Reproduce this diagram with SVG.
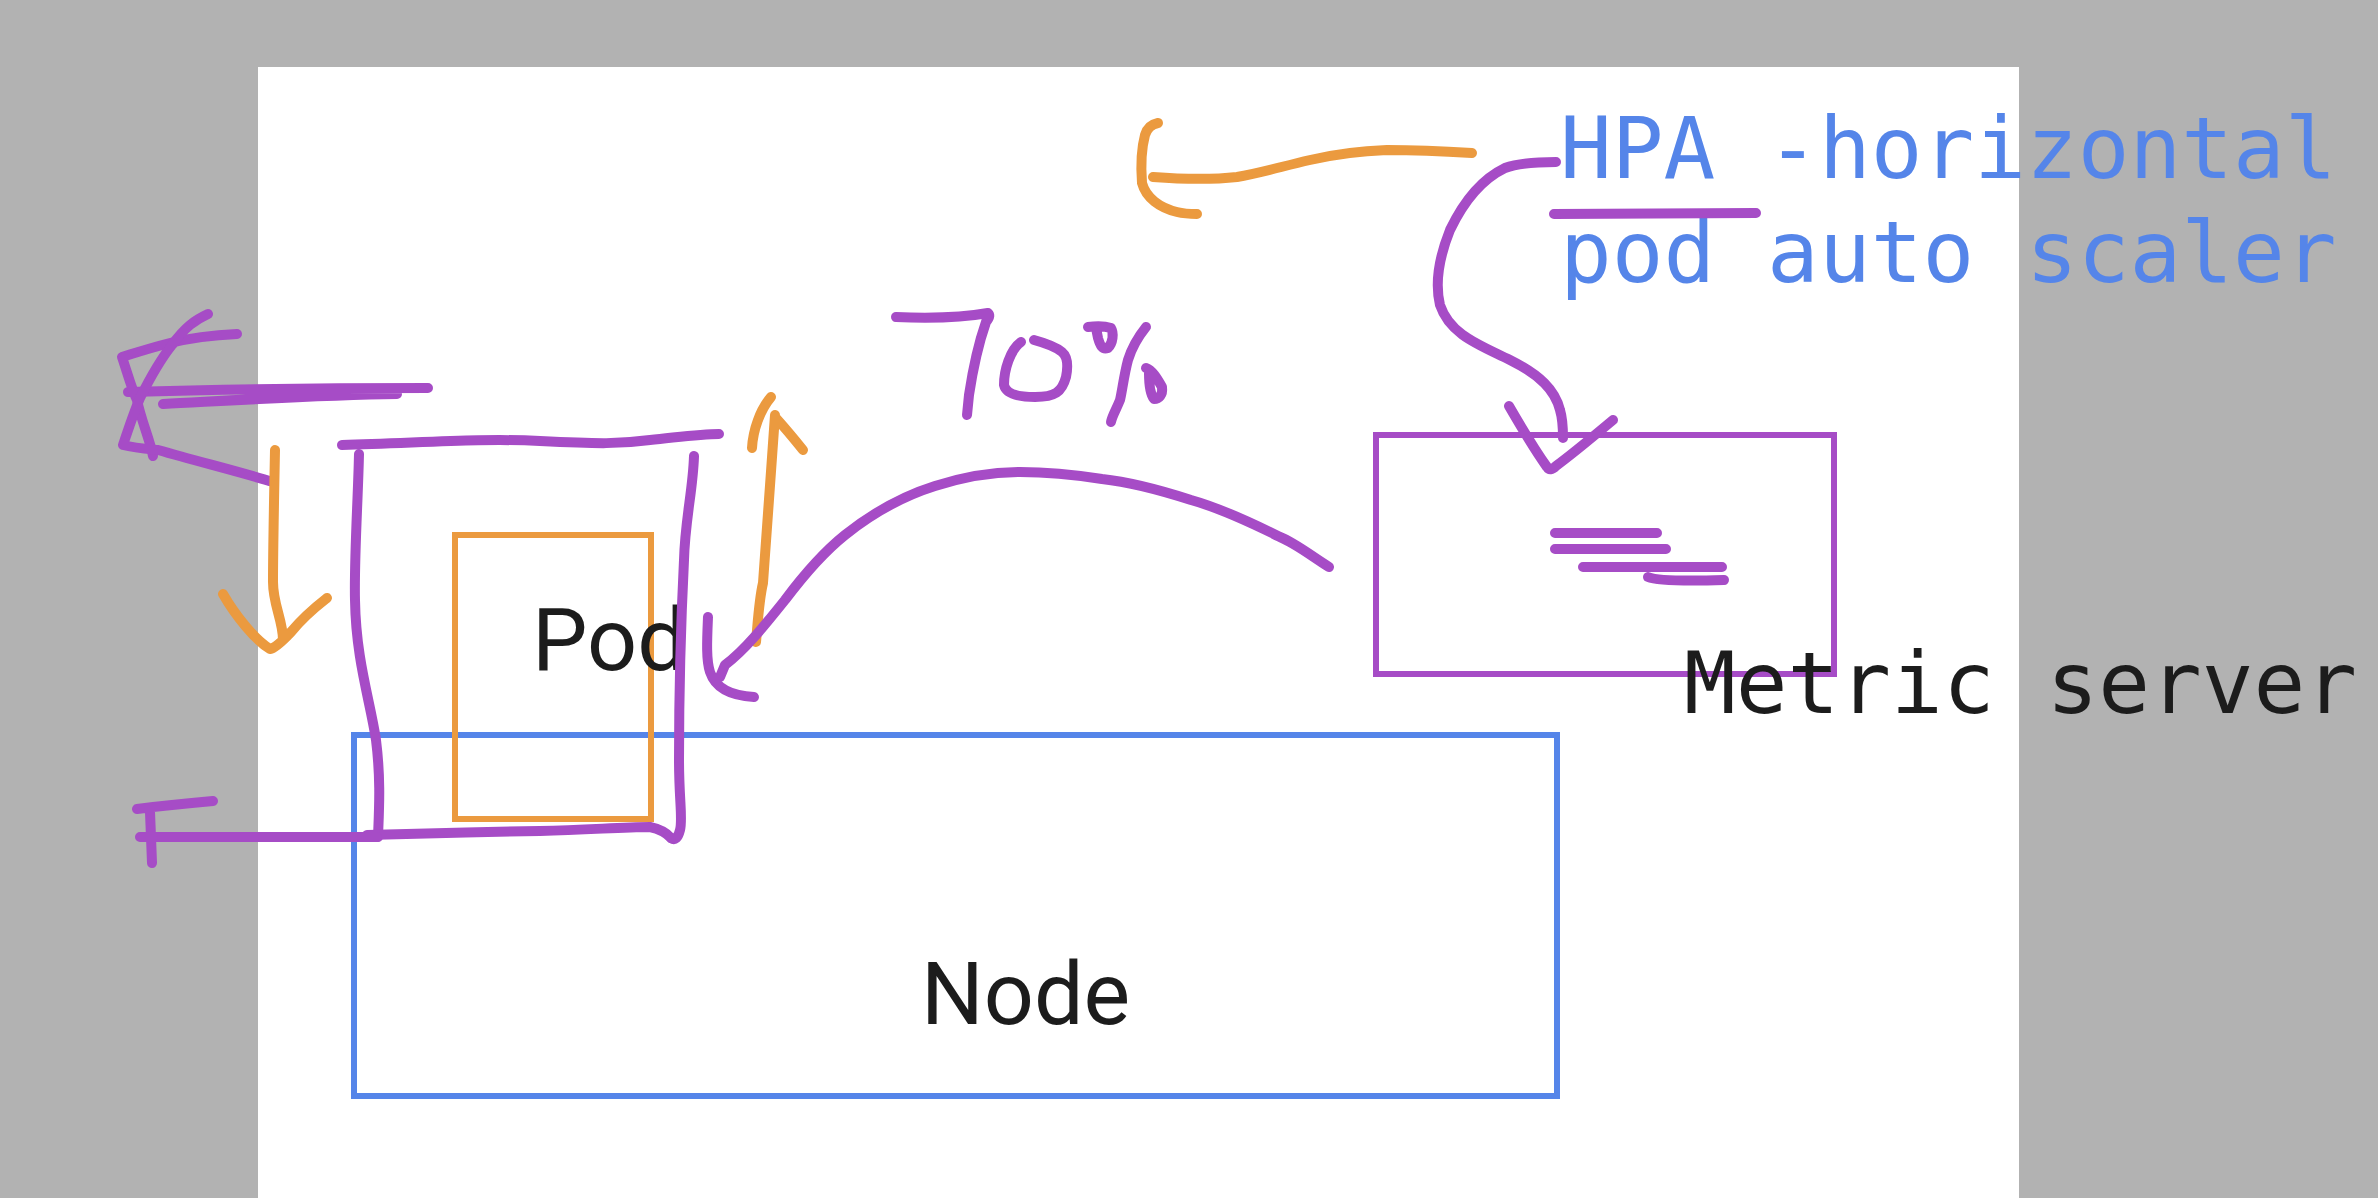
<svg xmlns="http://www.w3.org/2000/svg" width="2378" height="1198" viewBox="0 0 2378 1198">
<style>
.pen-p{fill:none;stroke:#a64cc6;stroke-width:10;stroke-linecap:round;stroke-linejoin:round}
.pen-o{fill:none;stroke:#eb9a3f;stroke-width:10;stroke-linecap:round;stroke-linejoin:round}
.box-b{fill:none;stroke:#5585e9;stroke-width:6}
.box-o{fill:none;stroke:#eb9a3f;stroke-width:6}
.box-p{fill:none;stroke:#a64cc6;stroke-width:6}
.lbl{font-family:Roboto,"Noto Sans",sans-serif;font-size:88px;fill:#1c1c1c}
.mono{font-family:"DejaVu Sans Mono","Liberation Mono",monospace;font-size:86px}
</style>
<rect x="0" y="0" width="2378" height="1198" fill="#b2b2b2"/>
<rect x="258" y="67" width="1761" height="1131" fill="#ffffff"/>

<g id="node">
<rect class="box-b" x="354" y="735" width="1203" height="361"/>
<text class="lbl" x="921" y="1024">Node</text>
</g>

<g id="pod">
<rect class="box-o" x="455" y="535" width="196" height="284"/>
<text class="lbl" x="532" y="670">Pod</text>
</g>

<g id="metric-server">
<rect class="box-p" x="1376" y="435" width="458" height="239"/>
<path class="pen-p" d="M1555 533 L1657 533 M1555 549 L1666 549 M1583 567 L1722 567 M1648 577 Q1660 582 1724 580"/>
<text class="mono" x="1684" y="713" fill="#1c1c1c">Metric server</text>
</g>

<g id="hpa">
<text class="mono" x="1560" y="178" fill="#5585e9">HPA -horizontal</text>
<text class="mono" x="1560" y="282" fill="#5585e9">pod auto scaler</text>
<path class="pen-p" d="M1554 214 L1756 213"/>
</g>

<g id="replica-set">
<path class="pen-p" d="M342 445 C420 443 480 438 540 441 C600 444 620 444 650 440 C680 437 700 434 719 434"/>
<path class="pen-p" d="M359 454 C358 500 354 560 355 600 C356 660 370 700 376 740 C381 780 379 810 378 837"/>
<path class="pen-p" d="M694 456 C693 490 685 520 684 560 C680 640 679 700 679 760 C679 800 683 820 680 830 Q677 842 671 838"/>
<path class="pen-p" d="M367 835 C430 833 480 832 540 831 C590 830 620 827 650 827 Q664 830 671 838"/>
<path class="pen-p" d="M128 392 C230 389 330 388 428 388 M163 404 C240 400 320 395 397 394"/>
<path class="pen-p" d="M237 334 C215 335 190 338 170 343 C150 348 135 353 122 357 C128 375 132 390 137 400 C141 420 150 440 153 456"/>
<path class="pen-p" d="M208 314 C195 320 185 327 172 345 C160 360 150 378 140 398 C134 412 128 430 123 445 C135 448 148 449 158 450 C200 462 240 472 273 482"/>
<path class="pen-p" d="M137 809 C160 806 190 803 213 801 M150 812 L152 863 M140 837 L377 837"/>
</g>

<g id="connectors">
<path class="pen-o" d="M275 450 C274 500 273 550 273 582 C273 605 283 620 283 640 M223 594 C235 615 255 640 270 649 Q276 648 291 632 C305 615 318 605 327 598"/>
<path class="pen-o" d="M756 642 C758 620 759 600 763 583 C767 530 771 470 775 415 M752 448 C753 430 760 410 771 397 M776 418 C785 428 795 440 803 450"/>
<path class="pen-p" d="M1329 567 C1310 555 1295 543 1280 537 C1250 522 1220 508 1191 500 C1160 490 1130 482 1102 479 C1070 474 1045 472 1020 472 C990 472 960 478 935 486 C900 497 870 515 845 535 C820 555 800 580 785 600 C765 625 745 650 725 665 L720 677"/>
<path class="pen-p" d="M708 617 C707 640 706 660 710 672 C716 690 735 696 754 697"/>
<path class="pen-p" d="M1556 162 C1535 162 1518 163 1505 168 C1480 180 1462 205 1450 230 C1440 255 1434 280 1440 305 C1450 335 1480 345 1510 360 C1540 375 1555 390 1560 410 C1563 420 1563 430 1563 438"/>
<path class="pen-p" d="M1509 406 C1520 425 1535 450 1547 467 Q1550 472 1556 466 C1575 452 1595 435 1613 420"/>
<path class="pen-o" d="M1472 153 C1440 151 1410 150 1387 150 C1360 151 1340 153 1310 160 C1280 167 1260 173 1237 177 C1210 180 1180 179 1153 177"/>
<path class="pen-o" d="M1158 123 Q1148 125 1145 135 C1141 150 1141 170 1142 183 C1146 198 1160 208 1177 212 C1185 214 1192 214 1197 214"/>
</g>

<g id="annotation-70">
<path class="pen-p" d="M896 317 C920 318 960 318 988 313 Q991 316 986 322 C978 345 972 375 969 395 L967 415"/>
<path class="pen-p" d="M1021 342 C1010 350 1004 370 1004 385 C1006 394 1018 397 1035 397 C1055 397 1062 392 1066 377 C1068 367 1068 357 1062 352 C1055 346 1045 343 1034 340"/>
<path class="pen-p" d="M1088 327 C1095 326 1105 326 1111 328 C1114 333 1113 343 1108 348 C1102 350 1100 345 1098 338 L1096 328"/>
<path class="pen-p" d="M1146 327 C1138 337 1132 347 1128 360 C1124 375 1122 392 1120 400 C1116 410 1112 416 1111 422"/>
<path class="pen-p" d="M1146 368 C1152 370 1157 378 1162 387 C1163 395 1159 399 1154 399 C1150 394 1149 384 1149 373"/>
</g>
</svg>
